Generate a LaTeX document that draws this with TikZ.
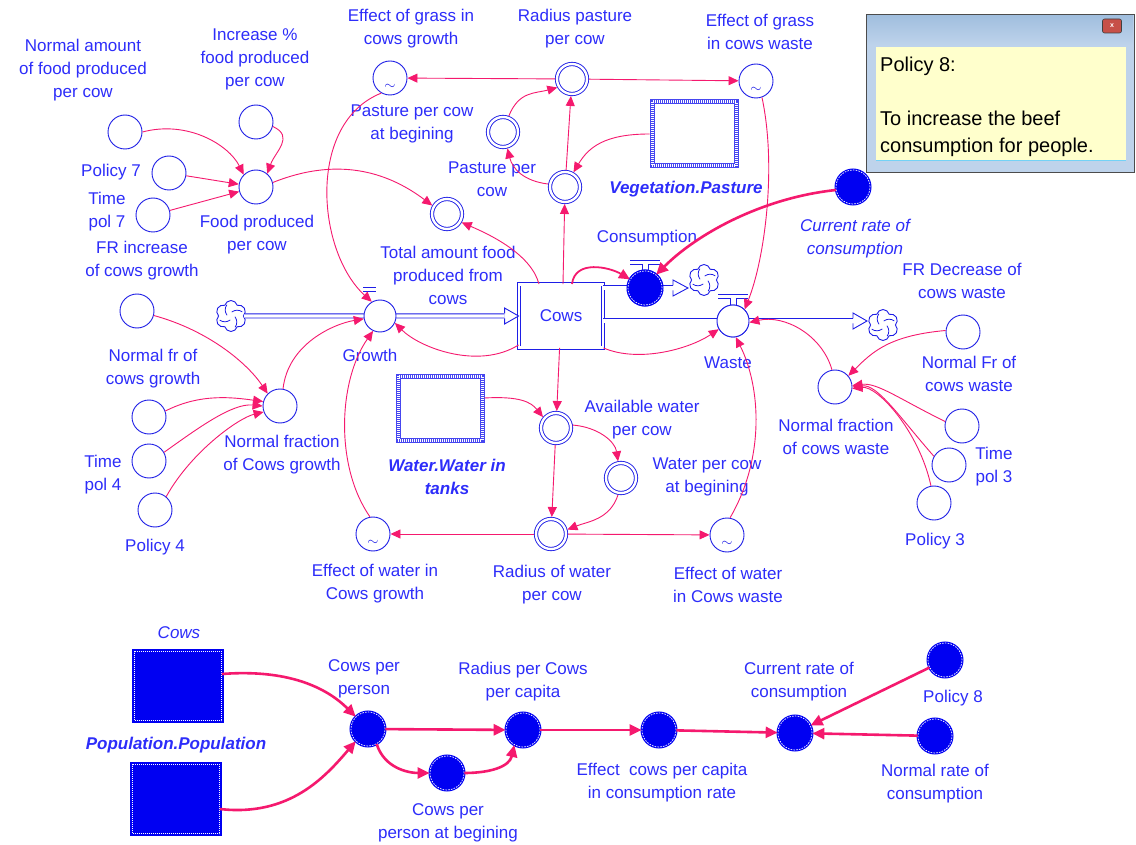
\documentclass[tikz,border=0pt]{standalone}
\usepackage{fontspec}
\setmainfont{Liberation Sans}
\usetikzlibrary{arrows.meta,shapes.symbols,calc}

\definecolor{txtblue}{RGB}{45,45,250}
\definecolor{lineblue}{RGB}{30,30,230}
\definecolor{ghostblue}{RGB}{70,70,240}
\definecolor{fillblue}{RGB}{0,0,242}
\definecolor{linkpink}{RGB}{245,25,110}
\definecolor{notebg}{RGB}{190,211,235}
\definecolor{notetop}{RGB}{160,190,222}
\definecolor{noteyellow}{RGB}{255,255,204}
\definecolor{closered}{RGB}{199,80,72}

\newcommand{\lblfont}{\fontsize{17}{23}\selectfont}
\newcommand{\notefont}{\fontsize{20}{27}\selectfont}

\tikzset{
  lbl/.style={text=txtblue, font=\lblfont, align=center, inner sep=0pt},
  lblbi/.style={lbl, font=\lblfont\bfseries\itshape},
  lbli/.style={lbl, font=\lblfont\itshape},
  var/.style={circle, draw=lineblue, line width=0.9pt, fill=white, minimum size=34pt, inner sep=0pt},
  dvar/.style={var, minimum size=30pt, double=white, double distance=2.4pt, outer sep=2pt},
  fvar/.style={circle, minimum size=34pt, inner sep=0pt, fill=fillblue, draw=white, line width=0.7pt,
    dash pattern=on 1.6pt off 1.2pt, preaction={draw=fillblue, solid, line width=3pt}},
  tvar/.style={var, path picture={\node[text=lineblue, font=\fontsize{15}{15}\selectfont, inner sep=0pt]
    at ([yshift=-9pt]path picture bounding box.center) {$\sim$};}},
  stock/.style={rectangle, draw=lineblue, line width=0.9pt, double=white, double distance=2.2pt,
    fill=white, minimum width=84pt, minimum height=63pt, text=txtblue, font=\lblfont},
  ghost/.style={rectangle, draw=ghostblue, line width=5pt, minimum width=84pt, minimum height=64pt,
    postaction={draw=white, line width=3pt, dash pattern=on 1pt off 1pt}},
  frect/.style={rectangle, fill=fillblue, draw=white, line width=0.6pt, dash pattern=on 1pt off 1pt,
    minimum width=87pt, minimum height=69pt, preaction={draw=fillblue, solid, line width=5pt}},
  cloudsym/.style={cloud, cloud puffs=6, aspect=1, draw=lineblue, line width=0.9pt, fill=white,
    minimum width=31pt, minimum height=31pt, inner sep=0pt,
    path picture={\foreach \ang in {20,110,200,290}{
      \draw[lineblue, line width=0.8pt] ($(path picture bounding box.center)+(\ang:12pt)$)
        to[bend right=35] ($(path picture bounding box.center)+({\ang+60}:4pt)$);}}},
  pipe/.style={draw=lineblue, line width=0.9pt, double=white, double distance=3.2pt},
  valvebar/.style={draw=lineblue, line width=0.9pt},
  hollowtip/.style={draw=lineblue, line width=0.9pt, fill=white, line join=miter},
  link/.style={draw=linkpink, line width=0.9pt, -{Triangle[length=10pt,width=9pt]}},
  mlink/.style={draw=linkpink, line width=1.8pt, -{Triangle[length=11pt,width=10pt]}},
  tlink/.style={draw=linkpink, line width=2.6pt, -{Triangle[length=12pt,width=11pt]}},
}

% valve handle: a double bar on a short stem above the valve circle
\newcommand{\valvecap}[1]{%
  \draw[valvebar] ($(#1.north)+(-15,-10)$) -- ($(#1.north)+(15,-10)$)
    ($(#1.north)+(-15,-6.5)$) -- ($(#1.north)+(-3,-6.5)$) -- ($(#1.north)+(-3,0)$)
    ($(#1.north)+(3,0)$) -- ($(#1.north)+(3,-6.5)$) -- ($(#1.north)+(15,-6.5)$);}

\begin{document}
\begin{tikzpicture}[x=1pt,y=-1pt]
\useasboundingbox (0,0) rectangle (1136,845);
\fill[white] (0,0) rectangle (1136,845);

% ---------- note window ----------
\fill[notebg] (866,14) rectangle (1134,172);
\shade[top color=notetop, bottom color=notebg] (867,15) rectangle (1133,45);
\fill[noteyellow] (876,47) rectangle (1126,160);
\draw[cyan!55, line width=1pt] (876,161) -- (1126,161);
\draw[gray!60!black, line width=0.8pt] (866,14) rectangle (1134,172);
\node[rectangle, rounded corners=2pt, fill=closered, draw=gray!50!black, line width=0.6pt,
  minimum width=19pt, minimum height=14pt, inner sep=0pt, text=white,
  font=\bfseries\scriptsize] (closebtn) at (1112,26) {x};
\node[anchor=north west, font=\notefont, align=left, inner sep=0pt, text=black] (notetext)
  at (880,57) {Policy 8:\\[27pt]To increase the beef\\consumption for people.};

% ---------- stock and flows ----------
\node[cloudsym] (src) at (231,316) {};
\node[stock] (cows) at (561,316) {Cows};

\node[fvar] (cons) at (645,288) {};
\node[var, minimum size=32pt] (waste) at (733,321) {};
\node[cloudsym] (sinkc) at (704,280) {};
\node[cloudsym] (sinkw) at (883,325) {};

\coordinate (gtip) at (cows.west);
\coordinate (gbase) at ($(cows.west)+(-14,0)$);
\coordinate (cbase) at (673,288);
\coordinate (ctip) at (688,288);
\coordinate (wbase) at (853,321);
\coordinate (wtip) at (867,321);

\draw[pipe] (src.east) -- (gbase);
\draw[hollowtip] ($(gbase)+(0,-2.5)$) -- ($(gbase)+(0,-8)$) -- (gtip) -- ($(gbase)+(0,8)$) -- ($(gbase)+(0,2.5)$);
\draw[pipe] (cows.east |- cons) -- (cbase);
\draw[hollowtip] ($(cbase)+(0,-2.5)$) -- ($(cbase)+(0,-8)$) -- (ctip) -- ($(cbase)+(0,8)$) -- ($(cbase)+(0,2.5)$);
\draw[pipe] (cows.east |- waste) -- (wbase);
\draw[hollowtip] ($(wbase)+(0,-2.5)$) -- ($(wbase)+(0,-8)$) -- (wtip) -- ($(wbase)+(0,8)$) -- ($(wbase)+(0,2.5)$);

\node[var, minimum size=32pt] (growth) at (380,316) {};
\node[fvar] (cons) at (645,288) {};
\node[var, minimum size=32pt] (waste) at (733,321) {};
\valvecap{cons}
\valvecap{waste}
\draw[valvebar] ($(growth.north)+(-17,-12)$) -- ++(13,0) ($(growth.north)+(-17,-8)$) -- ++(13,0);

% ---------- auxiliaries ----------
\node[var] (nafp) at (125,132) {};
\node[var] (incf) at (256,122) {};
\node[var] (pol7) at (169,173) {};
\node[var] (tp7) at (153,215) {};
\node[var] (fpc) at (256,187) {};
\node[dvar] (tafc) at (447,214) {};
\node[tvar] (egg) at (390,78) {};
\node[dvar] (rpc) at (572,79) {};
\node[tvar] (egw) at (756,81) {};
\node[dvar] (ppb) at (503,132) {};
\node[dvar] (ppc) at (565,187) {};
\node[ghost] (veg) at (694,134) {};
\node[fvar] (ccr) at (853,187) {};

\node[var] (frd) at (963,332) {};
\node[var] (nfw) at (835,387) {};
\node[var] (nfrw) at (962,426) {};
\node[var] (tp3) at (949,465) {};
\node[var] (pol3) at (934,503) {};

\node[var] (frig) at (137,311) {};
\node[var] (nfrg) at (149,417) {};
\node[var] (tp4) at (149,461) {};
\node[var] (pol4) at (155,510) {};
\node[var] (nfcg) at (280,406) {};

\node[ghost] (water) at (440,408) {};
\node[dvar] (awc) at (556,428) {};
\node[dvar] (wpb) at (621,478) {};
\node[dvar] (rwc) at (551,534) {};
\node[tvar] (ewg) at (373,534) {};
\node[tvar] (eww) at (727,535) {};

\node[frect] (cowsb) at (178,686) {};
\node[frect] (pop) at (176,799) {};
\node[fvar] (cpp) at (368,729) {};
\node[fvar] (rpcc) at (523,730) {};
\node[fvar] (cppb) at (447,773) {};
\node[fvar] (ecpc) at (659,730) {};
\node[fvar] (crc) at (795,733) {};
\node[fvar] (pol8) at (945,660) {};
\node[fvar] (nrc) at (935,736) {};

% ---------- labels ----------
\node[lbl] (t-nafp) at (83,70) {Normal amount\\of food produced\\per cow};
\node[lbl] (t-incf) at (255,59) {Increase \%\\food produced\\per cow};
\node[lbl] (t-pol7) at (111,172) {Policy 7};
\node[lbl] (t-tp7) at (107,212) {Time\\pol 7};
\node[lbl] (t-fpc) at (257,235) {Food produced\\per cow};
\node[lbl] (t-frig) at (142,261) {FR increase\\of cows growth};
\node[lbl] (t-egg) at (411,29) {Effect of grass in\\cows growth};
\node[lbl] (t-rpc) at (575,29) {Radius pasture\\per cow};
\node[lbl] (t-egw) at (760,32) {Effect of grass\\in cows waste};
\node[lbl] (t-ppb) at (412,124) {Pasture per cow\\at begining};
\node[lbl] (t-ppc) at (492,179) {Pasture per\\cow};
\node[lblbi] (t-veg) at (686,189) {Vegetation.Pasture};
\node[lbl] (t-tafc) at (448,275) {Total amount food\\produced from\\cows};
\node[lbl] (t-cons) at (647,238) {Consumption};
\node[lbli] (t-ccr) at (855,239) {Current rate of\\consumption};
\node[lbl] (t-frd) at (962,281) {FR Decrease of\\cows waste};
\node[lbl] (t-growth) at (370,355) {Growth};
\node[lbl] (t-waste) at (728,363) {Waste};
\node[lbl] (t-nfrg) at (153,369) {Normal fr of\\cows growth};
\node[lbl] (t-nfrw) at (969,374) {Normal Fr of\\cows waste};
\node[lbl] (t-nfcg) at (282,455) {Normal fraction\\of Cows growth};
\node[lbl] (t-awc) at (642,420) {Available water\\per cow};
\node[lbl] (t-nfw) at (836,437) {Normal fraction\\of cows waste};
\node[lblbi] (t-water) at (447,477) {Water.Water in\\tanks};
\node[lbl] (t-wpb) at (707,477) {Water per cow\\at begining};
\node[lbl] (t-tp4) at (103,475) {Time\\pol 4};
\node[lbl] (t-tp3) at (994,467) {Time\\pol 3};
\node[lbl] (t-pol4) at (155,547) {Policy 4};
\node[lbl] (t-pol3) at (935,541) {Policy 3};
\node[lbl] (t-ewg) at (375,584) {Effect of water in\\Cows growth};
\node[lbl] (t-rwc) at (552,585) {Radius of water\\per cow};
\node[lbl] (t-eww) at (728,585) {Effect of water\\in Cows waste};
\node[lbli] (t-cowsb) at (179,633) {Cows};
\node[lblbi] (t-pop) at (176,745) {Population.Population};
\node[lbl] (t-cpp) at (364,679) {Cows per\\person};
\node[lbl] (t-rpcc) at (523,682) {Radius per Cows\\per capita};
\node[lbl] (t-crc) at (799,682) {Current rate of\\consumption};
\node[lbl] (t-pol8) at (953,698) {Policy 8};
\node[lbl] (t-ecpc) at (662,783) {Effect\ \ cows per capita\\in consumption rate};
\node[lbl] (t-nrc) at (935,784) {Normal rate of\\consumption};
\node[lbl] (t-cppb) at (448,823) {Cows per\\person at begining};

% ---------- links: food production ----------
\draw[link] (nafp.east) .. controls +(45,-12) and +(-15,-30) .. (fpc.north west);
\draw[link] (incf.-15) .. controls +(22,10) and +(8,-22) .. (fpc.50);
\draw[link] (pol7) -- (fpc);
\draw[link] (tp7) -- (fpc);
\draw[link] (fpc.15) .. controls +(70,-28) and +(-40,-30) .. (tafc.150);
\draw[link] ([xshift=-22pt]cows.north) .. controls +(-8,-30) and +(28,12) .. (tafc.-30);

% ---------- links: pasture ----------
\draw[link] (rpc) -- (egg);
\draw[link] (rpc) -- (egw);
\draw[link] (ppb.70) .. controls +(10,-25) and +(-22,6) .. (rpc.210);
\draw[link] (ppc) -- (rpc);
\draw[link] (ppc.170) .. controls +(-25,-3) and +(5,20) .. (ppb.-75);
\draw[link] (veg.west) .. controls +(-45,0) and +(15,-25) .. (ppc.60);
\draw[link] ([xshift=2pt]cows.north) -- (ppc);
\draw[link] (egg.240) .. controls +(-75,30) and +(-55,-50) .. (growth.120);
\draw[link] (egw.-70) .. controls +(15,70) and +(20,-50) .. (waste.45);

% ---------- links: flows ----------
\draw[tlink] (ccr.190) .. controls +(-75,8) and +(40,-40) .. (cons.50);
\draw[mlink] ([xshift=11pt]cows.north) .. controls +(3,-25) and +(-20,-12) .. (cons.150);
\draw[link] (cows.south east) .. controls +(35,15) and +(-30,20) .. (waste.210);
\draw[link] ([yshift=3pt]cows.south west) .. controls +(-40,25) and +(25,25) .. (growth.-25);
\draw[link] (nfcg.80) .. controls +(5,-45) and +(-30,5) .. (growth.190);
\draw[link] (ewg.100) .. controls +(-35,-50) and +(-35,50) .. (growth.-115);
\draw[link] (eww.80) .. controls +(35,-60) and +(25,50) .. (waste.-80);
\draw[link] (nfw.100) .. controls +(-10,-35) and +(35,-8) .. (waste.-5);

% ---------- links: waste fraction ----------
\draw[link] (frd.175) .. controls +(-55,5) and +(25,-25) .. (nfw.40);
\draw[link] (nfrw.165) .. controls +(-45,-22) and +(25,-3) .. (nfw.5);
\draw[link] (tp3.150) .. controls +(-35,-40) and +(25,-3) .. (nfw.0);
\draw[link] (pol3.100) .. controls +(-12,-55) and +(25,-3) .. (nfw.-5);

% ---------- links: growth fraction ----------
\draw[link] (frig.-15) .. controls +(55,15) and +(-20,-30) .. (nfcg.135);
\draw[link] (nfrg.20) .. controls +(35,-18) and +(-30,-4) .. (nfcg.165);
\draw[link] (tp4.30) .. controls +(35,-25) and +(-30,-3) .. (nfcg.180);
\draw[link] (pol4.50) .. controls +(25,-45) and +(-25,6) .. (nfcg.200);

% ---------- links: water ----------
\draw[link] ([yshift=10pt]water.east) .. controls +(35,-2) and +(-12,-15) .. (awc.140);
\draw[link] (cows) -- (awc);
\draw[link] (awc.10) .. controls +(25,2) and +(-3,-20) .. (wpb.100);
\draw[link] (awc) -- (rwc);
\draw[link] (wpb.-100) .. controls +(-8,25) and +(20,-8) .. (rwc.15);
\draw[link] (rwc) -- (ewg);
\draw[link] (rwc) -- (eww);

% ---------- links: consumption rate ----------
\draw[tlink] ([yshift=12pt]cowsb.east) .. controls +(65,-5) and +(-30,-30) .. (cpp.135);
\draw[tlink] ([yshift=-10pt]pop.east) .. controls +(70,8) and +(-30,35) .. (cpp.225);
\draw[tlink] (cpp) -- (rpcc);
\draw[tlink] (cpp.-60) .. controls +(8,25) and +(-20,0) .. (cppb.west);
\draw[tlink] (cppb.east) .. controls +(25,0) and +(-5,22) .. (rpcc.-120);
\draw[tlink] (rpcc) -- (ecpc);
\draw[tlink] (ecpc) -- (crc);
\draw[tlink] (pol8) -- (crc);
\draw[tlink] (nrc) -- (crc);
\end{tikzpicture}
\end{document}
